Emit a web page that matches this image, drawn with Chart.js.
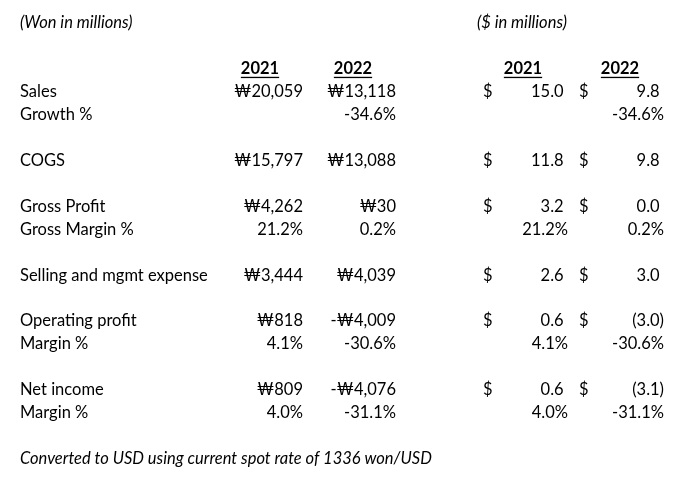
<!DOCTYPE html>
<html lang="en">
<head>
    <meta charset="UTF-8">
    <title>Won / USD summary</title>
    <script src="https://cdn.jsdelivr.net/npm/chart.js"></script>
    <style>
        body { margin: 0; background: #fff; }
        #wrap { width: 680px; height: 480px; }
    </style>
</head>
<body>
    <div id="wrap"><canvas id="tableChart"></canvas></div>

    <script>
        // Data
        const itemLabels = ['Sales', 'COGS', 'Gross Profit', 'Selling and mgmt expense', 'Operating profit', 'Net income'];
        const won2021 = [20059, 15797, 4262, 3444, 818, 809];
        const won2022 = [13118, 13088, 30, 4039, -4009, -4076];
        const usd2021 = [15.0, 11.8, 3.2, 2.6, 0.6, 0.6];
        const usd2022 = [9.8, 9.8, 0.0, 3.0, -3.0, -3.1];

        const pctLabels = ['Growth %', 'Gross Margin %', 'Margin %', 'Margin %'];
        const pct2021 = [null, 21.2, 4.1, 4.0];
        const pct2022 = [-34.6, 0.2, -30.6, -31.1];

        const years = ['2021', '2022'];
        const wonTitle = '(Won in millions)';
        const usdTitle = '($ in millions)';
        const footnote = 'Converted to USD using current spot rate of 1336 won/USD';

        // row index of each line in the sheet
        const itemRows = [3, 6, 8, 11, 13, 16];
        const pctRows = [4, 9, 14, 17];

        // layout
        const colX = { label: 20, won21: 303, won22: 396, sign21: 483, usd21: 568, sign22: 579, usd22: 664,
                       usdTitle: 477, head: [260, 353, 523, 620] };
        const FONT = "16.5px Lato, 'DejaVu Sans', sans-serif";

        const fmtWon = v => (v < 0 ? '-\u20A9' : '\u20A9') + Math.abs(v).toLocaleString('en-US');
        const fmtUsd = v => v < 0 ? '(' + Math.abs(v).toFixed(1) + ')' : v.toFixed(1);
        const fmtPct = v => v.toFixed(1) + '%';

        function column(x, align, cells, extra) {
            return Object.assign({
                data: cells.map(c => ({ x: x, y: c.row })),
                texts: cells.map(c => c.text),
                align: align,
                pointRadius: 0,
                showLine: false
            }, extra || {});
        }

        const labelCells = itemLabels.map((t, i) => ({ row: itemRows[i], text: t }))
            .concat(pctLabels.map((t, i) => ({ row: pctRows[i], text: t })));

        function valueCells(vals, pcts, fmt) {
            const a = vals.map((v, i) => ({ row: itemRows[i], text: fmt(v) }));
            pcts.forEach((p, i) => { if (p !== null) a.push({ row: pctRows[i], text: fmtPct(p) }); });
            return a;
        }

        const datasets = [
            column(colX.label, 'left', labelCells),
            column(colX.label, 'left', [{ row: 0, text: wonTitle }], { italic: true }),
            column(colX.usdTitle, 'left', [{ row: 0, text: usdTitle }], { italic: true }),
            column(colX.label, 'left', [{ row: 19, text: footnote }], { italic: true }),
            column(colX.head[0], 'center', [{ row: 2, text: years[0] }], { header: true }),
            column(colX.head[1], 'center', [{ row: 2, text: years[1] }], { header: true }),
            column(colX.head[2], 'center', [{ row: 2, text: years[0] }], { header: true }),
            column(colX.head[3], 'center', [{ row: 2, text: years[1] }], { header: true }),
            column(colX.won21, 'right', valueCells(won2021, pct2021, fmtWon)),
            column(colX.won22, 'right', valueCells(won2022, pct2022, fmtWon)),
            column(colX.sign21, 'left', itemRows.map(r => ({ row: r, text: '$' }))),
            column(colX.sign22, 'left', itemRows.map(r => ({ row: r, text: '$' }))),
            column(colX.usd21, 'right', valueCells(usd2021, pct2021, fmtUsd), { accounting: true }),
            column(colX.usd22, 'right', valueCells(usd2022, pct2022, fmtUsd), { accounting: true })
        ];

        const tableText = {
            id: 'tableText',
            afterDatasetsDraw(chart) {
                const ctx = chart.ctx;
                ctx.save();
                ctx.fillStyle = '#000';
                ctx.textBaseline = 'middle';
                chart.data.datasets.forEach((ds, di) => {
                    const meta = chart.getDatasetMeta(di);
                    ctx.font = ds.header ? 'bold ' + FONT : ds.italic ? 'italic ' + FONT : FONT;
                    const paren = ctx.measureText(')').width;
                    meta.data.forEach((pt, j) => {
                        const txt = ds.texts[j];
                        let x = pt.x;
                        // accounting format leaves room for a closing paren on positives
                        if (ds.accounting && !txt.endsWith(')') && !txt.endsWith('%')) x -= paren;
                        ctx.textAlign = ds.align;
                        ctx.fillText(txt, x, pt.y);
                        if (ds.header) {
                            const w = ctx.measureText(txt).width;
                            ctx.fillRect(x - w / 2, pt.y + 8, w, 1.3);
                        }
                    });
                });
                ctx.restore();
            }
        };

        new Chart(document.getElementById('tableChart'), {
            type: 'scatter',
            data: { datasets: datasets },
            options: {
                responsive: true,
                maintainAspectRatio: false,
                animation: false,
                layout: { padding: 0 },
                plugins: { legend: { display: false }, tooltip: { enabled: false } },
                scales: {
                    x: { type: 'linear', min: 0, max: 680, display: false },
                    y: { type: 'linear', min: -1.0, max: 19.93, reverse: true, display: false }
                }
            },
            plugins: [tableText]
        });
    </script>
</body>
</html>
